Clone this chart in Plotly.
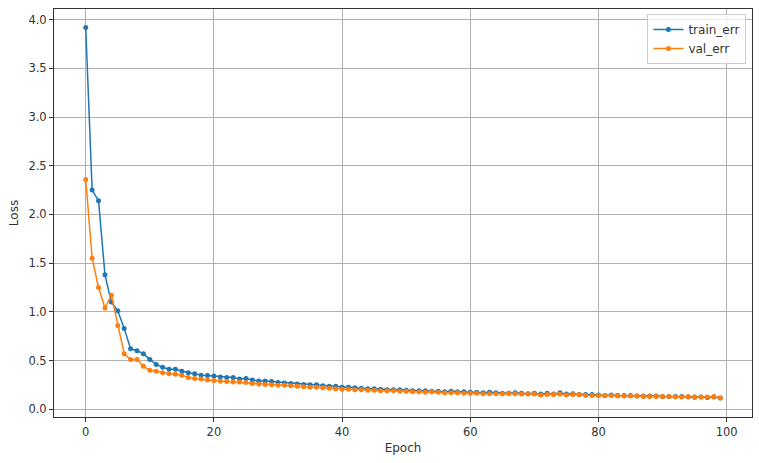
import plotly.graph_objects as go

epochs = list(range(100))
train_err = [3.92, 2.25, 2.14, 1.38, 1.10, 1.01, 0.83, 0.62, 0.60, 0.57,
             0.51, 0.46, 0.43, 0.41, 0.41, 0.39, 0.375, 0.365, 0.35, 0.345,
             0.34, 0.33, 0.325, 0.325, 0.31, 0.315, 0.30, 0.29, 0.29, 0.285,
             0.275, 0.27, 0.265, 0.26, 0.255, 0.25, 0.25, 0.24, 0.235, 0.235,
             0.225, 0.225, 0.22, 0.215, 0.21, 0.21, 0.205, 0.20, 0.20, 0.20,
             0.195, 0.19, 0.19, 0.19, 0.185, 0.185, 0.18, 0.185, 0.18, 0.18,
             0.175, 0.175, 0.17, 0.175, 0.17, 0.165, 0.165, 0.17, 0.165, 0.16,
             0.165, 0.155, 0.165, 0.155, 0.17, 0.155, 0.16, 0.15, 0.15, 0.15,
             0.145, 0.14, 0.145, 0.14, 0.14, 0.14, 0.135, 0.135, 0.135, 0.135,
             0.13, 0.13, 0.13, 0.13, 0.125, 0.125, 0.125, 0.12, 0.125, 0.115]
val_err = [2.36, 1.55, 1.25, 1.04, 1.17, 0.86, 0.57, 0.51, 0.51, 0.44,
           0.40, 0.39, 0.375, 0.365, 0.36, 0.35, 0.325, 0.315, 0.31, 0.30,
           0.295, 0.29, 0.285, 0.28, 0.28, 0.275, 0.265, 0.26, 0.255, 0.25,
           0.245, 0.245, 0.24, 0.235, 0.23, 0.225, 0.225, 0.22, 0.215, 0.21,
           0.205, 0.205, 0.20, 0.20, 0.195, 0.195, 0.19, 0.19, 0.19, 0.185,
           0.185, 0.18, 0.18, 0.175, 0.18, 0.175, 0.17, 0.17, 0.17, 0.165,
           0.165, 0.165, 0.16, 0.16, 0.16, 0.16, 0.165, 0.16, 0.155, 0.155,
           0.155, 0.145, 0.15, 0.15, 0.155, 0.145, 0.15, 0.15, 0.14, 0.14,
           0.14, 0.14, 0.14, 0.135, 0.135, 0.135, 0.135, 0.13, 0.13, 0.13,
           0.13, 0.13, 0.125, 0.125, 0.13, 0.12, 0.125, 0.125, 0.13, 0.115]

x_ticks = [0, 20, 40, 60, 80, 100]
y_ticks = [0.0, 0.5, 1.0, 1.5, 2.0, 2.5, 3.0, 3.5, 4.0]

font = "DejaVu Sans, Liberation Sans, sans-serif"

fig = go.Figure()
fig.add_trace(go.Scatter(x=epochs, y=train_err, name="train_err", mode="lines+markers",
                         line=dict(color="#1f77b4", width=1.5),
                         marker=dict(color="#1f77b4", size=5)))
fig.add_trace(go.Scatter(x=epochs, y=val_err, name="val_err", mode="lines+markers",
                         line=dict(color="#ff7f0e", width=1.5),
                         marker=dict(color="#ff7f0e", size=5)))

axis_common = dict(showline=True, linecolor="#333333", linewidth=1, mirror=True,
                   showgrid=True, gridcolor="#b0b0b0", gridwidth=0.8,
                   ticks="outside", ticklen=4, tickcolor="#333333",
                   zeroline=False, automargin=False,
                   tickfont=dict(size=11.5, color="#333333", family=font))

fig.update_xaxes(range=[-4.95, 103.95], tickvals=x_ticks,
                 title=dict(text="Epoch", font=dict(size=12, color="#333333", family=font), standoff=5),
                 **axis_common)
fig.update_yaxes(range=[-0.08, 4.11], tickvals=y_ticks, tickformat=".1f",
                 title=dict(text="Loss", font=dict(size=12, color="#333333", family=font), standoff=7),
                 **axis_common)

fig.update_layout(
    width=759, height=463,
    margin=dict(l=54, r=7, t=9, b=46, autoexpand=False),
    paper_bgcolor="white", plot_bgcolor="white",
    font=dict(family=font, size=12, color="#333333"),
    showlegend=True,
    legend=dict(x=0.992, y=0.988, xanchor="right", yanchor="top",
                bgcolor="rgba(255,255,255,0.8)", bordercolor="#cccccc", borderwidth=1,
                font=dict(size=12, family=font, color="#333333"),
                itemwidth=30, tracegroupgap=0),
)

fig.write_html("out.html", config={"displayModeBar": False},
               post_script="document.body.style.margin='0';document.body.style.overflow='hidden';")
